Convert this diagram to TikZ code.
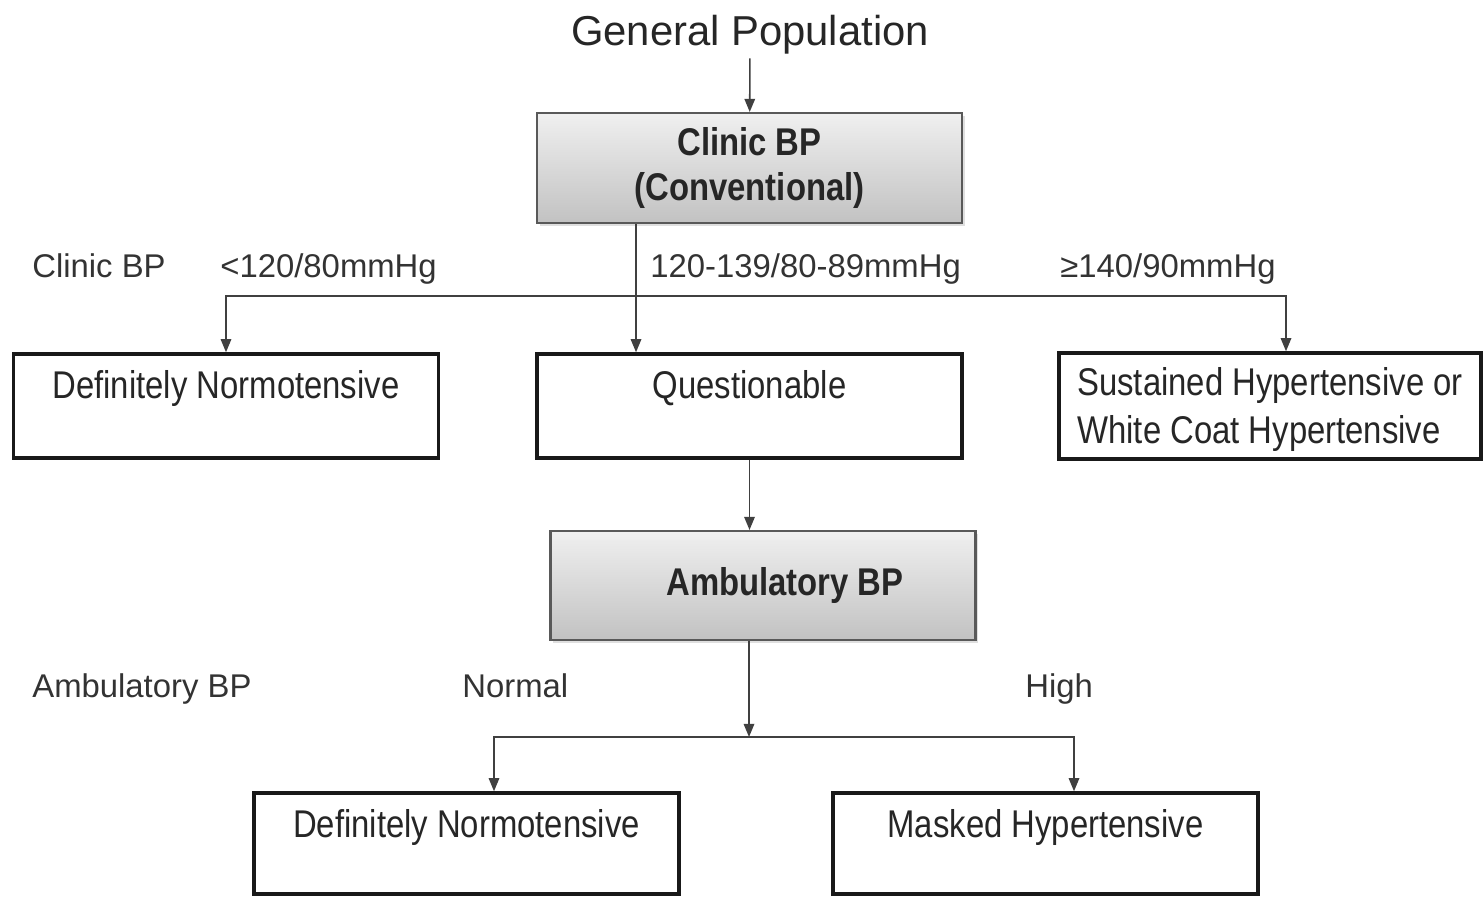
\documentclass[tikz,border=0pt]{standalone}
\usepackage{fontspec}
\setmainfont{Liberation Sans}
\newfontfamily\narrowfont[FakeStretch=0.85]{Liberation Sans}
\usetikzlibrary{arrows.meta,shadows}

\begin{document}
\begin{tikzpicture}[x=0.02cm, y=-0.02cm,
  outbox/.style={draw=black!90, line width=2pt, fill=white, minimum width=8.5cm, inner sep=0pt,
    text height=0.88cm, text depth=1.2cm, text=black!85, font=\narrowfont\fontsize{22}{27}\selectfont},
  testbox/.style={draw=black!65, line width=1.2pt, top color=black!6, bottom color=black!24,
    minimum width=8.5cm, minimum height=2.2cm, align=center, text=black!85,
    drop shadow={shadow xshift=1.5pt, shadow yshift=-1.5pt, opacity=0.25},
    font=\narrowfont\bfseries\fontsize{22}{26}\selectfont},
  lbl/.style={anchor=base west, inner sep=0pt, text=black!80, font=\fontsize{18.7}{22}\selectfont},
  arr/.style={-{Triangle[length=7.5pt,width=6pt]}, line width=0.9pt, draw=black!75}]
\useasboundingbox (0,0) rectangle (1483,897);

% title and the two gray test boxes
\node[inner sep=2pt, text=black!85, font=\fontsize{23.8}{28}\selectfont] (gp) at (750,35) {General Population};
\node[testbox] (cbp) at (749.5,168) {Clinic BP\\(Conventional)};
\node[testbox, minimum height=2.18cm] (amb) at (763,585.5) {\hspace*{0.88cm}Ambulatory BP};

% result boxes
\node[outbox] (dn1) at (226,406) {Definitely Normotensive};
\node[outbox] (quest) at (749.5,406) {Questionable};
\node[outbox, minimum width=8.45cm, align=left, text height=1.8cm, text depth=0.32cm] (sust) at (1270,406) {Sustained Hypertensive or\\White Coat Hypertensive};
\node[outbox, text depth=1.14cm] (dn2) at (466.5,843.5) {Definitely Normotensive};
\node[outbox, text depth=1.14cm] (mh) at (1045.5,843.5) {Masked Hypertensive};

% row labels
\node[lbl] (clinlbl) at (32,277) {Clinic BP};
\node[lbl] (low) at (220,277) {<120/80mmHg};
\node[lbl] (mid) at (650,277) {120-139/80-89mmHg};
\node[lbl] (hi) at (1060,277) {≥140/90mmHg};
\node[lbl] (amblbl) at (32,697) {Ambulatory BP};
\node[lbl] (norm) at (462,697) {Normal};
\node[lbl] (high) at (1025,697) {High};

% connectors
\coordinate (cbpsplit) at (636,296);
\coordinate (ambsplit) at (749,737);
\draw[arr] (gp) -- (cbp);
\draw[arr] ([xshift=-2.27cm]cbp.south) -- ([xshift=-2.27cm]quest.north);
\draw[arr] (cbpsplit) -| (dn1.north);
\draw[arr] (cbpsplit) -| ([xshift=0.32cm]sust.north);
\draw[arr] (quest.south) -- (quest.south |- amb.north);
\draw[arr] (amb.south -| ambsplit) -- (ambsplit);
\draw[arr] (ambsplit) -| ([xshift=0.55cm]dn2.north);
\draw[arr] (ambsplit) -| ([xshift=0.57cm]mh.north);
\end{tikzpicture}
\end{document}
